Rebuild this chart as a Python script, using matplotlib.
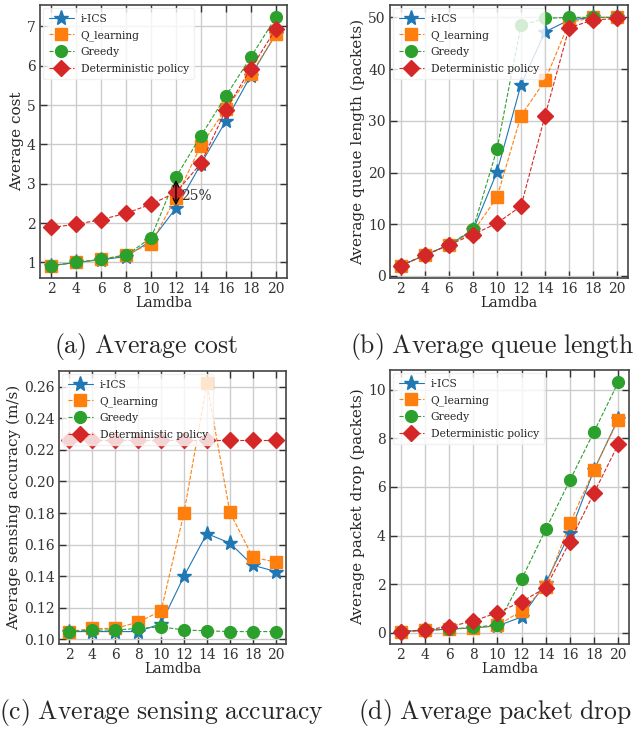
import numpy as np
import matplotlib.pyplot as plt

plt.style.use('seaborn-v0_8-whitegrid')
plt.rcParams['font.family'] = 'DejaVu Serif'
plt.rcParams['mathtext.fontset'] = 'cm'

lam = [2, 4, 6, 8, 10, 12, 14, 16, 18, 20]
labels = ['i-ICS', 'Q_learning', 'Greedy', 'Deterministic policy']

# (a) average cost
cost_ics = [0.92, 1.0, 1.07, 1.15, 1.55, 2.38, 3.5, 4.6, 5.75, 6.8]
cost_q = [0.92, 1.0, 1.08, 1.2, 1.48, 2.65, 3.97, 4.9, 5.78, 6.8]
cost_greedy = [0.92, 1.0, 1.08, 1.18, 1.63, 3.17, 4.22, 5.23, 6.22, 7.23]
cost_det = [1.89, 1.97, 2.09, 2.25, 2.48, 2.78, 3.52, 4.88, 5.93, 6.93]

# (b) average queue length
queue_ics = [2, 4, 6, 8.8, 20.1, 37, 47.2, 49.5, 50, 50]
queue_q = [2, 4, 6, 8.5, 15.2, 31, 37.8, 49, 50, 50]
queue_greedy = [2, 4, 6, 9, 24.5, 48.5, 49.8, 50, 50, 50]
queue_det = [2, 4, 6, 8, 10.2, 13.5, 31, 48, 49.5, 49.8]

# (c) average sensing accuracy
acc_ics = [0.105, 0.105, 0.105, 0.105, 0.11, 0.14, 0.167, 0.161, 0.147, 0.143]
acc_q = [0.105, 0.107, 0.107, 0.111, 0.118, 0.18, 0.262, 0.1805, 0.152, 0.149]
acc_greedy = [0.105, 0.106, 0.106, 0.107, 0.108, 0.106, 0.1055, 0.105, 0.105, 0.105]
acc_det = [0.2265, 0.2265, 0.2265, 0.2265, 0.2265, 0.2265, 0.2265, 0.2265, 0.2265, 0.2265]

# (d) average packet drop
drop_ics = [0.05, 0.1, 0.15, 0.2, 0.28, 0.65, 2.05, 4.1, 6.7, 8.8]
drop_q = [0.05, 0.1, 0.15, 0.2, 0.3, 0.9, 1.9, 4.5, 6.7, 8.75]
drop_greedy = [0.05, 0.1, 0.15, 0.22, 0.33, 2.2, 4.25, 6.27, 8.27, 10.3]
drop_det = [0.05, 0.12, 0.25, 0.48, 0.83, 1.28, 1.85, 3.75, 5.75, 7.75]

W, H = 639, 729
fig = plt.figure(figsize=(W / 100, H / 100), dpi=100)


def make_ax(x0, y0, x1, y1):
    return fig.add_axes([x0 / W, 1 - y1 / H, (x1 - x0) / W, (y1 - y0) / H])


def draw(ax, series, ylabel, yticks):
    styles = [('*', '-', 'C0', 11), ('s', '--', 'C1', 8.5), ('o', '--', 'C2', 8.5), ('D', '--', 'C3', 8)]
    for (mk, ls, c, ms), ys, lab in zip(styles, series, labels):
        ax.plot(lam, ys, marker=mk, ls=ls, color=c, ms=ms, lw=0.8, label=lab)
    ax.margins(0.05)
    ax.set_xticks(lam)
    ax.set_yticks(yticks)
    ax.set_xlabel('Lamdba', fontsize=10, labelpad=0)
    ax.set_ylabel(ylabel, fontsize=11, labelpad=2)
    ax.tick_params(direction='in', top=True, right=True, length=5, width=1,
                   labelsize=10, colors='#333333', pad=3)
    for s in ax.spines.values():
        s.set_color('#444444')
        s.set_linewidth(1.2)
    ax.grid(True, color='#cccccc', lw=1)
    leg = ax.legend(loc='upper left', fontsize=7.7, frameon=True, framealpha=0.8,
                    borderaxespad=0.3, handlelength=2.4, labelspacing=0.6,
                    borderpad=0.5, handletextpad=0.6)
    leg.get_frame().set_edgecolor('#eeeeee')


ax1 = make_ax(40, 5, 287, 278)
draw(ax1, [cost_ics, cost_q, cost_greedy, cost_det], 'Average cost', [1, 2, 3, 4, 5, 6, 7])
ax1.annotate('', xy=(12, cost_ics[5]), xytext=(12, cost_greedy[5]),
             arrowprops=dict(arrowstyle='<->', color='black', lw=1))
ax1.text(12.4, 2.68, '25%', fontsize=10, va='center', color='#333333')

ax2 = make_ax(390, 5, 628, 278)
draw(ax2, [queue_ics, queue_q, queue_greedy, queue_det], 'Average queue length (packets)', [0, 10, 20, 30, 40, 50])

ax3 = make_ax(59, 371, 286, 644)
draw(ax3, [acc_ics, acc_q, acc_greedy, acc_det], 'Average sensing accuracy (m/s)',
     [0.10, 0.12, 0.14, 0.16, 0.18, 0.20, 0.22, 0.24, 0.26])
ax3.yaxis.set_major_formatter(plt.FormatStrFormatter('%.2f'))

ax4 = make_ax(390, 370, 629, 644)
draw(ax4, [drop_ics, drop_q, drop_greedy, drop_det], 'Average packet drop (packets)', [0, 2, 4, 6, 8, 10])

caps = [(146, 347, r'$\mathrm{(a)\ Average\ cost}$'),
        (492, 347, r'$\mathrm{(b)\ Average\ queue\ length}$'),
        (161, 712, r'$\mathrm{(c)\ Average\ sensing\ accuracy}$'),
        (495, 712, r'$\mathrm{(d)\ Average\ packet\ drop}$')]
for x, y, t in caps:
    fig.text(x / W, 1 - y / H, t, fontsize=18.5, ha='center', va='center')

fig.savefig('out.png', dpi=100)
